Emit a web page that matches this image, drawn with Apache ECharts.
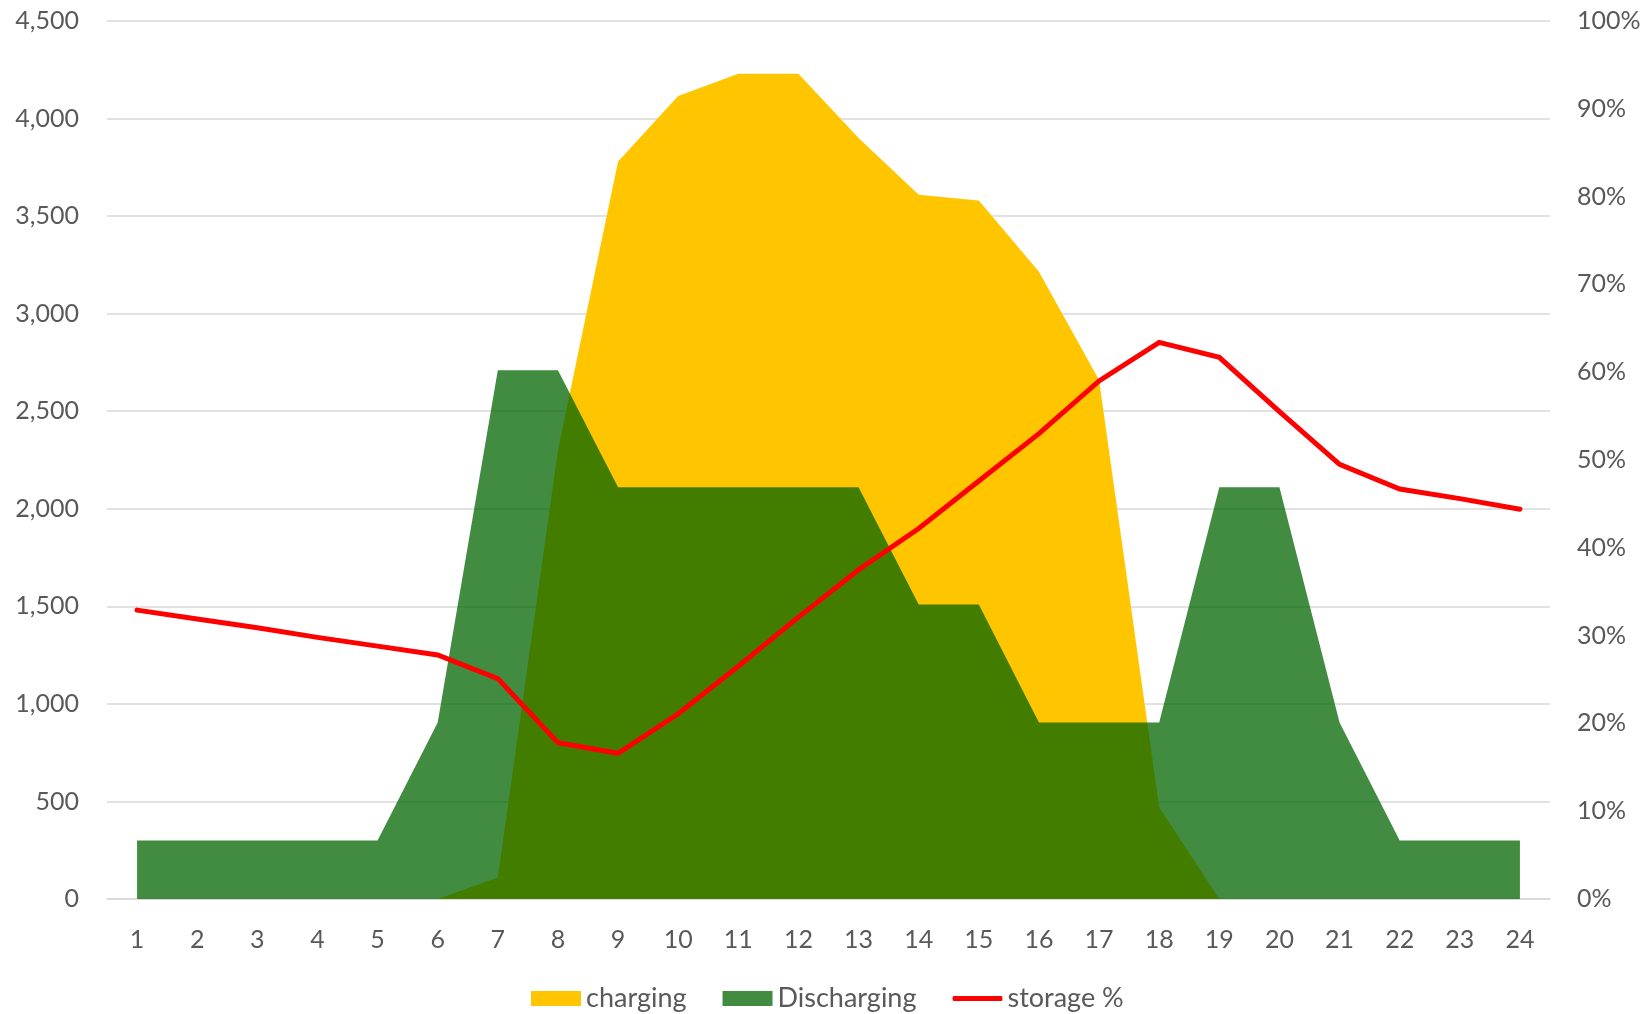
<!DOCTYPE html>
<html>
<head>
<meta charset="utf-8">
<script src="https://cdn.jsdelivr.net/npm/echarts@6/dist/echarts.min.js"></script>
<style>
  html, body { margin: 0; padding: 0; background: #ffffff; }
  #chart { width: 1648px; height: 1014px; }
</style>
</head>
<body>
<div id="chart"></div>
<script>
const categories = ['1','2','3','4','5','6','7','8','9','10','11','12','13','14','15','16','17','18','19','20','21','22','23','24'];
const charging = [0, 0, 0, 0, 0, 0, 110, 2300, 3780, 4115, 4230, 4230, 3900, 3610, 3580, 3215, 2660, 470, 0, 0, 0, 0, 0, 0];
const discharging = [300, 300, 300, 300, 300, 905, 2710, 2710, 2110, 2110, 2110, 2110, 2110, 1510, 1510, 905, 905, 905, 2110, 2110, 905, 300, 300, 300];
const storagePct = [32.9, 31.9, 30.9, 29.8, 28.8, 27.8, 25.1, 17.8, 16.6, 21.1, 26.5, 32.1, 37.5, 42.2, 47.6, 53.0, 59.0, 63.4, 61.7, 55.5, 49.5, 46.7, 45.6, 44.4];
const seriesNames = ['charging', 'Discharging', 'storage %'];

const FONT = 'Lato';
const TXT = '#595959';
const chart = echarts.init(document.getElementById('chart'), null, { renderer: 'canvas' });
chart.setOption({
  backgroundColor: '#ffffff',
  animation: false,
  grid: { left: 107, right: 98, top: 21, bottom: 115, containLabel: false },
  legend: {
    left: 526, top: 980,
    itemWidth: 50, itemHeight: 15, itemGap: 36,
    textStyle: { fontFamily: FONT, fontSize: 27, color: TXT },
    data: [
      { name: seriesNames[0], icon: 'rect' },
      { name: seriesNames[1], icon: 'rect' },
      { name: seriesNames[2], icon: 'path://M2,0 L98,0 Q100,0 100,5 Q100,10 98,10 L2,10 Q0,10 0,5 Q0,0 2,0 Z' }
    ]
  },
  xAxis: {
    type: 'category',
    data: categories,
    boundaryGap: true,
    axisLine: { show: true, lineStyle: { color: '#d9d9d9', width: 1.5 } },
    axisTick: { show: false },
    axisLabel: { fontFamily: FONT, fontSize: 25, color: TXT, margin: 28, interval: 0 }
  },
  yAxis: [
    {
      type: 'value', min: 0, max: 4500, interval: 500,
      axisLine: { show: false }, axisTick: { show: false },
      splitLine: { show: true, lineStyle: { color: '#d9d9d9', width: 1.5 } },
      axisLabel: {
        fontFamily: FONT, fontSize: 25, color: TXT, margin: 28,
        formatter: v => v.toLocaleString('en-US')
      }
    },
    {
      type: 'value', min: 0, max: 100, interval: 10,
      axisLine: { show: false }, axisTick: { show: false },
      splitLine: { show: false },
      axisLabel: {
        fontFamily: FONT, fontSize: 25, color: TXT, margin: 27,
        formatter: '{value}%'
      }
    }
  ],
  series: [
    {
      name: seriesNames[0], type: 'line', data: charging,
      color: '#FFC600',
      symbol: 'none', lineStyle: { width: 0 },
      areaStyle: { color: '#FFC600', opacity: 1 }
    },
    {
      name: seriesNames[1], type: 'line', data: discharging,
      color: 'rgba(0,100,0,0.74)',
      symbol: 'none', lineStyle: { width: 0 },
      areaStyle: { color: 'rgba(0,100,0,0.74)', opacity: 1 }
    },
    {
      name: seriesNames[2], type: 'line', data: storagePct, yAxisIndex: 1,
      color: '#FF0000',
      symbol: 'none',
      lineStyle: { width: 5, color: '#FF0000', cap: 'round', join: 'miter' }
    }
  ]
});
</script>
</body>
</html>
